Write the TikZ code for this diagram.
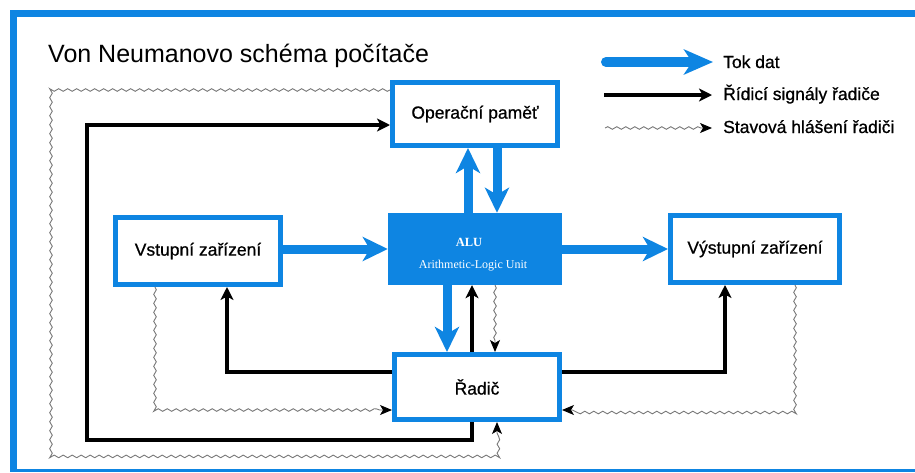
\documentclass[tikz,border=0pt]{standalone}
\usepackage{fontspec}
\setmainfont{Liberation Sans}
\newfontfamily\labelfont[FakeBold=0.8]{Liberation Sans}
\newfontfamily\serifface{Liberation Serif}
\usetikzlibrary{arrows.meta,decorations.pathmorphing,calc}
\definecolor{flowblue}{RGB}{14,133,226}
\definecolor{wavegray}{RGB}{120,120,120}

\tikzset{
  unit/.style={draw=flowblue, line width=5pt, fill=white, inner sep=0pt,
    font=\labelfont\fontsize{17.5}{20}\selectfont},
  dataflow/.style={draw=flowblue, line width=9pt,
    -{Stealth[length=25pt,width=24pt,inset=7pt]}},
  legflow/.style={draw=flowblue, line width=10pt, line cap=round,
    -{Stealth[length=29pt,width=25pt,inset=8pt]}},
  ctrl/.style={draw=black, line width=3.4pt,
    -{Stealth[length=13pt,width=13pt,inset=3.5pt]}},
  status/.style={draw=wavegray, line width=0.9pt, decorate,
    decoration={snake, amplitude=1.3pt, segment length=9pt, post length=10pt},
    -{Stealth[length=12pt,width=10pt,inset=3pt,black]}},
  legendtext/.style={anchor=base west, inner sep=0pt,
    font=\labelfont\fontsize{17.5}{20}\selectfont},
  alutext/.style={text=white, inner sep=0pt, font=\serifface\fontsize{12}{14}\selectfont}
}

\begin{document}
\begin{tikzpicture}[x=1pt,y=-1pt]
\fill[white] (0,0) rectangle (915,472);
\useasboundingbox (0,0) rectangle (915,472);

% outer frame: top, left and bottom edges only
\fill[flowblue] (9.5,10) rectangle (915,17);
\fill[flowblue] (9.5,10) rectangle (16.5,472);
\fill[flowblue] (9.5,469) rectangle (915,472);

% title
\node[anchor=base west, inner sep=0pt, font=\fontsize{25}{29}\selectfont] (title)
  at (48,62) {Von Neumanovo schéma počítače};

% legend
\node[legendtext] (lgData) at (723,68) {Tok dat};
\node[legendtext] (lgCtrl) at (723,100) {Řídicí signály řadiče};
\node[legendtext] (lgStat) at (723,133) {Stavová hlášení řadiči};
\coordinate (lgDataA) at (606,62);  \coordinate (lgDataB) at (713,62);
\coordinate (lgCtrlA) at (604,95);  \coordinate (lgCtrlB) at (712,95);
\coordinate (lgStatA) at (605,128); \coordinate (lgStatB) at (712,128);
\draw[legflow] (lgDataA) -- (lgDataB);
\draw[ctrl] (lgCtrlA) -- (lgCtrlB);
\draw[status] (lgStatA) -- (lgStatB);

% units
\node[unit, minimum width=165pt, minimum height=63pt] (mem)  at (475,114) {Operační paměť};
\node[unit, minimum width=165pt, minimum height=67pt] (inp)  at (198,251) {Vstupní zařízení};
\node[unit, minimum width=169pt, minimum height=67pt] (outp) at (755,249) {Výstupní zařízení};
\node[fill=flowblue, inner sep=0pt, minimum width=174pt, minimum height=72pt] (alu) at (475,249) {};
\node[unit, minimum width=165pt, minimum height=65pt] (ctl)  at (477,387) {Řadič};

\node[alutext, font=\serifface\bfseries\fontsize{12.5}{14}\selectfont] (aluname)
  at ([shift={(-6,-7)}]alu.center) {ALU};
\node[alutext] (alufull) at ([shift={(-2,17)}]alu.center) {Arithmetic-Logic Unit};

% data flow
\draw[dataflow] (inp.east |- alu.west) -- (alu.west);
\draw[dataflow] (alu.east) -- (outp.west);
\draw[dataflow] ([xshift=-7pt]alu.north) -- ([xshift=-7pt]alu.north |- mem.south);
\draw[dataflow] ([xshift=22pt]mem.south) -- ([xshift=22pt]mem.south |- alu.north);
\draw[dataflow] ([xshift=-28pt]alu.south) -- ([xshift=-28pt]alu.south |- ctl.north);

% control signals
\draw[ctrl] ([xshift=-5pt]ctl.north) -- ([xshift=-5pt]ctl.north |- alu.south);
\draw[ctrl] ([yshift=15pt]ctl.west) -| ([xshift=29pt]inp.south);
\draw[ctrl] ([yshift=15pt]ctl.east) -| ([xshift=-30pt]outp.south);
\coordinate (ctlLoopBL) at (87,440);
\coordinate (ctlLoopTL) at (87,125);
\draw[ctrl] ([xshift=-5pt]ctl.south) |- (ctlLoopBL) -- (ctlLoopTL) -- (mem.west |- ctlLoopTL);

% status reports
\draw[status] ([xshift=20pt]alu.south) -- ([xshift=20pt]alu.south |- ctl.north);
\draw[status] ([xshift=-43pt]inp.south) |- ([yshift=-23pt]ctl.west);
\draw[status] ([xshift=40pt]outp.south) |- ([yshift=-23pt]ctl.east);
\coordinate (stLoopTL) at (50,90);
\coordinate (stLoopBL) at (50,458);
\draw[status] (mem.west |- stLoopTL) -- (stLoopTL) -- (stLoopBL) -| ([xshift=20pt]ctl.south);
\end{tikzpicture}
\end{document}
